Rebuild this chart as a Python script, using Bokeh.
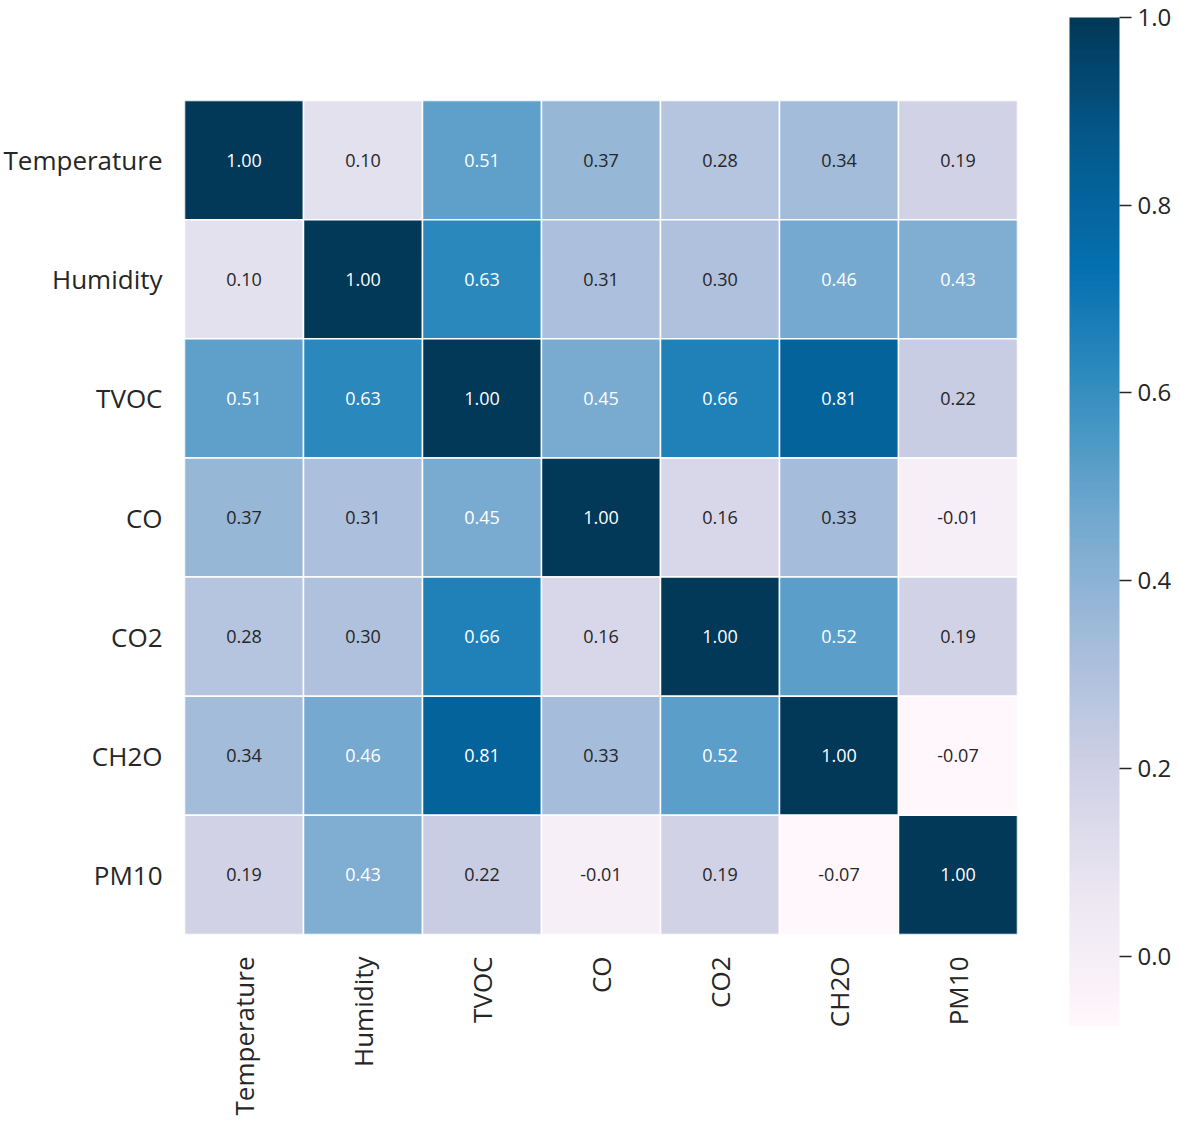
import numpy as np
from bokeh.plotting import figure
from bokeh.models import (ColumnDataSource, LinearColorMapper, ColorBar, FixedTicker,
                          PrintfTickFormatter, FactorRange, Range1d)
from bokeh.layouts import row
from bokeh.embed import file_html
from bokeh.resources import INLINE
from bokeh.core.properties import value

# ---------------- data ----------------
variables = ["Temperature", "Humidity", "TVOC", "CO", "CO2", "CH2O", "PM10"]
temperature = [1.00, 0.10, 0.51, 0.37, 0.28, 0.34, 0.19]
humidity    = [0.10, 1.00, 0.63, 0.31, 0.30, 0.46, 0.43]
tvoc        = [0.51, 0.63, 1.00, 0.45, 0.66, 0.81, 0.22]
co          = [0.37, 0.31, 0.45, 1.00, 0.16, 0.33, -0.01]
co2         = [0.28, 0.30, 0.66, 0.16, 1.00, 0.52, 0.19]
ch2o        = [0.34, 0.46, 0.81, 0.33, 0.52, 1.00, -0.07]
pm10        = [0.19, 0.43, 0.22, -0.01, 0.19, -0.07, 1.00]
matrix_rows = [temperature, humidity, tvoc, co, co2, ch2o, pm10]
colorbar_ticks = [0.0, 0.2, 0.4, 0.6, 0.8, 1.0]

# ---------------- palette (PuBu, interpolated) ----------------
pubu = ["#fff7fb", "#ece7f2", "#d0d1e6", "#a6bddb", "#74a9cf",
        "#3690c0", "#0570b0", "#045a8d", "#023858"]
rgb = np.array([[int(h[i:i + 2], 16) for i in (1, 3, 5)] for h in pubu], dtype=float)
palette = []
for i in range(256):
    t = i / 255 * (len(pubu) - 1)
    k = min(int(t), len(pubu) - 2)
    f = t - k
    c = (1 - f) * rgb[k] + f * rgb[k + 1]
    palette.append("#%02x%02x%02x" % tuple(int(round(v)) for v in c))

LOW, HIGH = -0.074, 1.0
mapper = LinearColorMapper(palette=palette, low=LOW, high=HIGH)


def text_color_for(v):
    idx = int(np.clip((v - LOW) / (HIGH - LOW) * 255, 0, 255))
    h = palette[idx]
    c = np.array([int(h[i:i + 2], 16) for i in (1, 3, 5)]) / 255.0
    lin = np.where(c <= 0.03928, c / 12.92, ((c + 0.055) / 1.055) ** 2.4)
    lum = 0.2126 * lin[0] + 0.7152 * lin[1] + 0.0722 * lin[2]
    return "#ffffff" if lum < 0.408 else "#262626"


xs, ys, vals, labels, tcs = [], [], [], [], []
for r, rname in enumerate(variables):
    for c, cname in enumerate(variables):
        v = matrix_rows[r][c]
        xs.append(cname)
        ys.append(rname)
        vals.append(v)
        labels.append("%.2f" % v)
        tcs.append(text_color_for(v))

src = ColumnDataSource(dict(x=xs, y=ys, val=vals, label=labels, tc=tcs))

# ---------------- heatmap ----------------
p = figure(x_range=FactorRange(*variables), y_range=FactorRange(*variables[::-1]),
           frame_width=833, frame_height=834,
           output_backend="svg", toolbar_location=None,
           min_border_left=176, min_border_right=31, min_border_top=100,
           min_border_bottom=180)
p.rect(x="x", y="y", width=1, height=1, source=src,
       fill_color={"field": "val", "transform": mapper},
       line_color="white", line_width=1.5)
p.text(x="x", y="y", text="label", text_color="tc", source=src,
       text_align="center", text_baseline="middle",
       text_font=value("Open Sans"), text_font_size="18px")

for ax in (p.xaxis, p.yaxis):
    ax.axis_line_color = None
    ax.major_tick_line_color = None
    ax.minor_tick_line_color = None
    ax.major_label_text_font = "Open Sans"
    ax.major_label_text_font_size = "26px"
    ax.major_label_text_color = "#262626"
    ax.major_label_standoff = 16
p.xaxis.major_label_orientation = np.pi / 2
p.grid.visible = False
p.outline_line_color = None

# ---------------- colorbar ----------------
cbf = figure(x_range=Range1d(0, 1), y_range=Range1d(0, 1),
             frame_width=50, frame_height=834,
             output_backend="svg", toolbar_location=None,
             x_axis_type=None, y_axis_type=None,
             min_border_left=21, min_border_right=52,
             min_border_top=100, min_border_bottom=180)
cbf.grid.visible = False
cbf.outline_line_color = None
cb = ColorBar(color_mapper=mapper, location=(0, -91), width=50, height=1008,
              padding=0, margin=0,
              ticker=FixedTicker(ticks=colorbar_ticks),
              formatter=PrintfTickFormatter(format="%.1f"),
              major_tick_out=12, major_tick_in=0,
              major_tick_line_color="#262626", major_tick_line_width=1.5,
              minor_tick_line_color=None,
              major_label_text_font="Open Sans", major_label_text_font_size="24px",
              major_label_text_color="#262626",
              label_standoff=6, bar_line_color=None,
              background_fill_alpha=0, border_line_color=None)
cbf.add_layout(cb, "center")

layout = row(p, cbf)
open("out.html", "w").write(file_html(layout, INLINE))
